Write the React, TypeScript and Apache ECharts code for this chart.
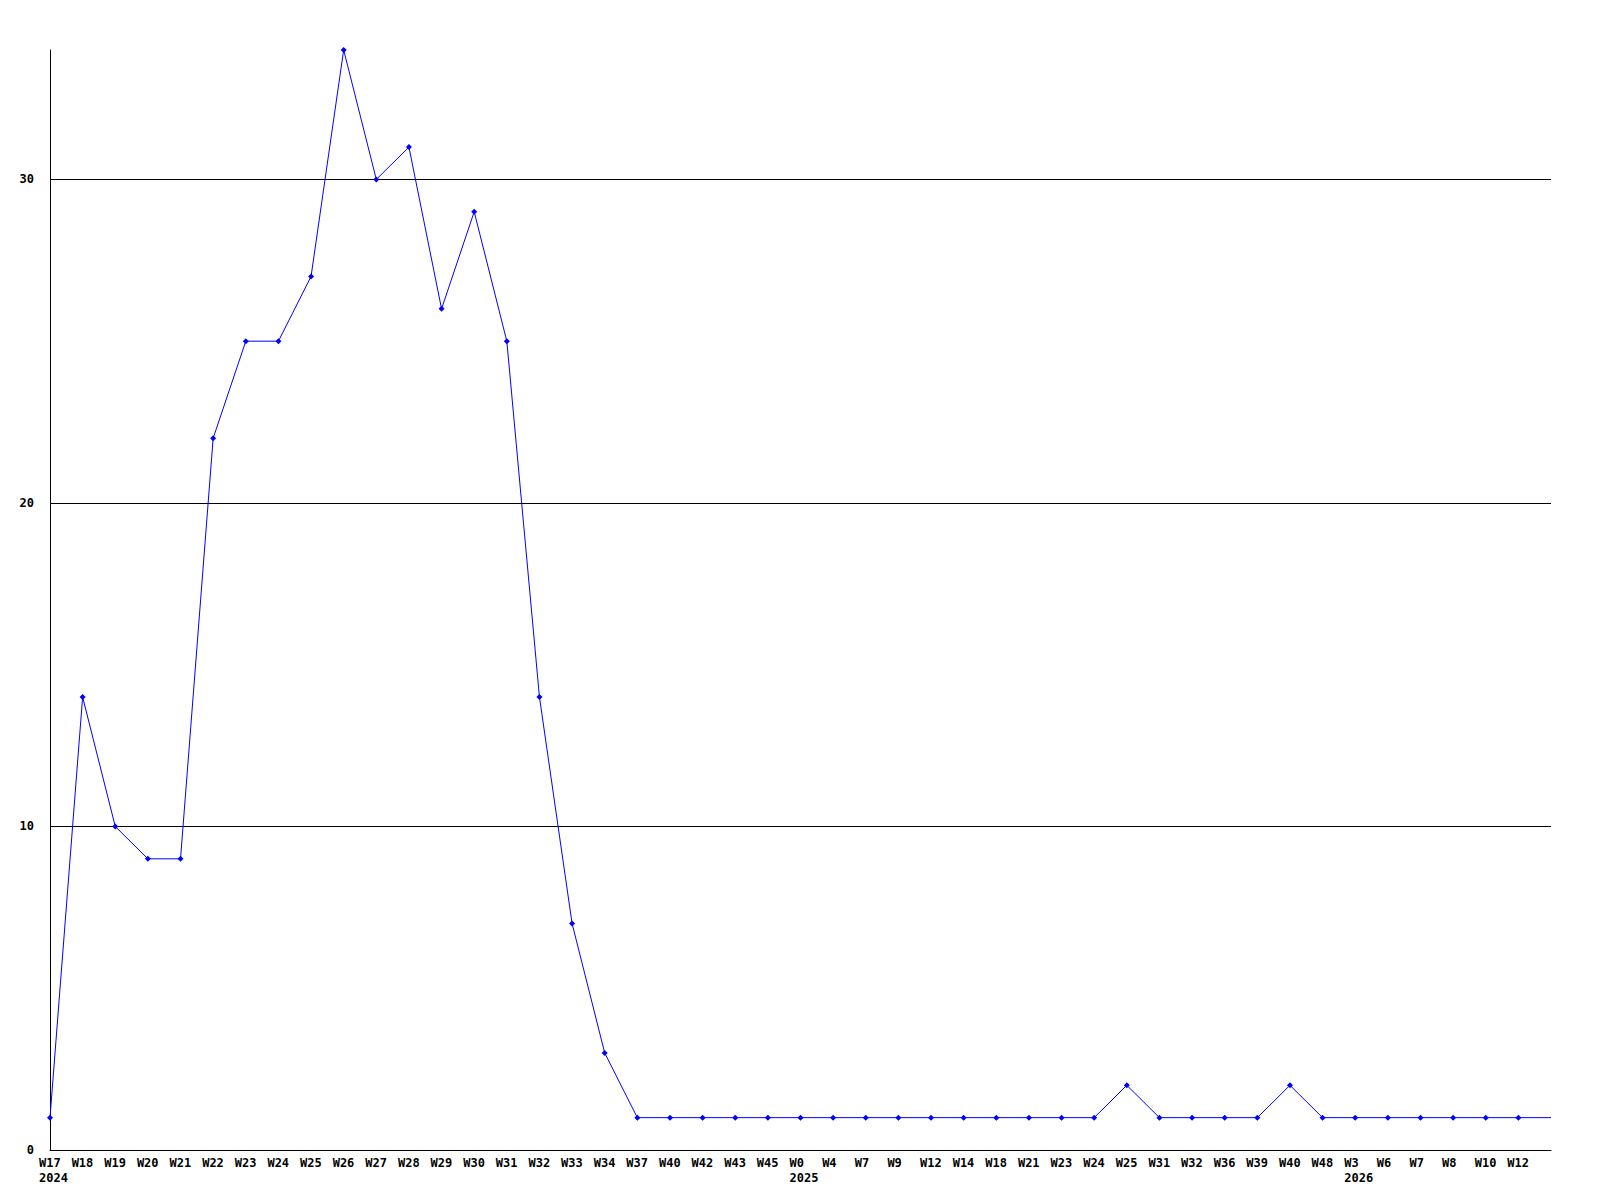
import React, { useEffect, useRef } from "react";
import * as echarts from "echarts";

const weeks = [
  "W17", "W18", "W19", "W20", "W21", "W22", "W23", "W24", "W25", "W26", "W27", "W28",
  "W29", "W30", "W31", "W32", "W33", "W34", "W37", "W40", "W42", "W43", "W45",
  "W0", "W4", "W7", "W9", "W12", "W14", "W18", "W21", "W23", "W24", "W25", "W31",
  "W32", "W36", "W39", "W40", "W48",
  "W3", "W6", "W7", "W8", "W10", "W12", "",
];
const years = [
  "2024", "", "", "", "", "", "", "", "", "", "", "", "", "", "", "", "", "", "", "", "", "", "",
  "2025", "", "", "", "", "", "", "", "", "", "", "", "", "", "", "", "",
  "2026", "", "", "", "", "", "",
];
const counts = [
  1, 14, 10, 9, 9, 22, 25, 25, 27, 34, 30, 31, 26, 29, 25, 14, 7, 3, 1, 1, 1, 1, 1,
  1, 1, 1, 1, 1, 1, 1, 1, 1, 1, 2, 1, 1, 1, 1, 2, 1,
  1, 1, 1, 1, 1, 1, 1,
];
const yTicks = [0, 10, 20, 30];

export default function App() {
  const ref = useRef<HTMLDivElement>(null);
  useEffect(() => {
    document.body.style.margin = "0";
    const chart = echarts.init(ref.current!, null, { renderer: "svg" });
    const font = "'DejaVu Sans Mono', monospace";
    const categories = weeks.map((w, i) => (years[i] ? w + "\n" + years[i] : w));
    const data = counts.map((v, i) =>
      i === counts.length - 1 ? { value: v, symbol: "none" } : v
    );
    chart.setOption({
      animation: false,
      grid: { left: 50, right: 49, top: 50, bottom: 50 },
      xAxis: {
        type: "category",
        data: categories,
        boundaryGap: false,
        axisLine: { lineStyle: { color: "#000", width: 1 } },
        axisTick: { show: false },
        axisLabel: {
          interval: 0,
          color: "#000",
          fontFamily: font,
          fontWeight: "bold",
          fontSize: 12,
          lineHeight: 15,
          margin: 5,
          align: "center",
          formatter: (v: string) =>
            v
              .split("\n")
              .map((s) => "{a|" + s + "}")
              .join("\n"),
          rich: {
            a: {
              width: 22,
              align: "left",
              color: "#000",
              fontFamily: font,
              fontWeight: "bold",
              fontSize: 12,
              lineHeight: 15,
            },
          },
        },
        splitLine: { show: false },
      },
      yAxis: {
        type: "value",
        min: 0,
        max: 34,
        interval: 10,
        axisLine: { show: true, lineStyle: { color: "#000", width: 1 } },
        axisTick: { show: false },
        axisLabel: {
          color: "#000",
          fontFamily: font,
          fontWeight: "bold",
          fontSize: 12,
          margin: 16,
          showMaxLabel: false,
          formatter: (v: number) => (yTicks.includes(v) ? String(v) : ""),
        },
        splitLine: {
          show: true,
          showMaxLine: false,
          lineStyle: { color: "#000", width: 1 },
        },
      },
      series: [
        {
          type: "line",
          data,
          symbol: "diamond",
          symbolSize: 6,
          showSymbol: true,
          lineStyle: { color: "#0000ff", width: 1 },
          itemStyle: { color: "#0000ff" },
        },
      ],
    });
    return () => chart.dispose();
  }, []);
  return <div ref={ref} style={{ width: 1600, height: 1200 }} />;
}
